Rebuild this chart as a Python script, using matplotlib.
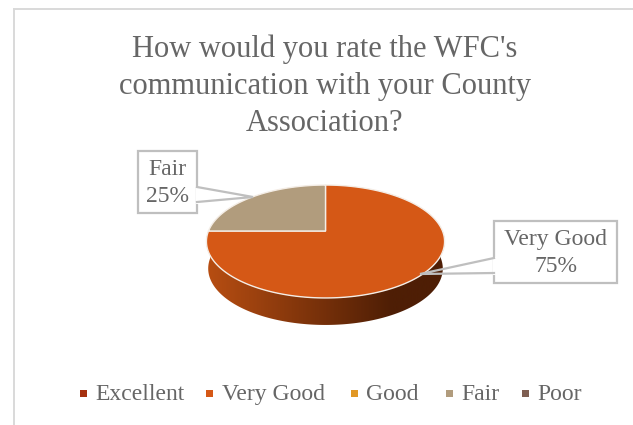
import matplotlib
matplotlib.use("Agg")
import matplotlib.pyplot as plt
import numpy as np
from matplotlib.patches import Polygon, Rectangle

title = "How would you rate the WFC's\ncommunication with your County\nAssociation?"
categories = ["Excellent", "Very Good", "Good", "Fair", "Poor"]
percents = [0, 75, 0, 25, 0]
colors = ["#A5300F", "#D55816", "#E19825", "#B19C7D", "#7F5F52"]

W, H = 633, 425
plt.rcParams["font.family"] = ["Liberation Serif", "DejaVu Serif"]
TEXT = "#666666"
LINE = "#BFBFBF"

fig = plt.figure(figsize=(W / 100, H / 100), dpi=100)
ax = fig.add_axes([0, 0, 1, 1])
ax.set_xlim(0, W)
ax.set_ylim(H, 0)
ax.axis("off")

# pie top face, tilted circle in perspective
CX, CY = 325.5, 231
BX, AY, K = 117, 54.5, 0.186
DEPTH = 27

def project(u, v):
    d = 1 + K * v
    return CX + BX * u / d, CY - AY * v / d

def wedge(a0, a1):
    t = np.radians(np.linspace(a0, a1, 200))
    x, y = project(np.cos(t), np.sin(t))
    return np.column_stack([np.r_[CX, x], np.r_[CY, y]])

# outer wall with a left to right shade
t = np.radians(np.linspace(180, 360, 200))
x, y = project(np.cos(t), np.sin(t))
wall = np.column_stack([np.r_[x, x[::-1] * 0.985 + CX * 0.015],
                        np.r_[y, y[::-1] + DEPTH]])
wall_patch = Polygon(wall, closed=True, fc="none", ec="none", zorder=2)
ax.add_patch(wall_patch)
ramp = np.linspace(0, 1, 256)
c0 = np.array([0xB8, 0x4E, 0x12]) / 255
c1 = np.array([0x4E, 0x1E, 0x05]) / 255
# darkest at about 80% of the way across, then flat
shade = np.clip(ramp / 0.78, 0, 1)[None, :, None]
grad = c0[None, None, :] * (1 - shade) + c1[None, None, :] * shade
im = ax.imshow(grad, extent=(x.min(), x.max(), H, 0), aspect="auto", zorder=2)
im.set_clip_path(wall_patch)
ax.set_xlim(0, W)
ax.set_ylim(H, 0)

# slices clockwise from twelve o'clock
start = 90
for name, pct, col in zip(categories, percents, colors):
    if pct == 0:
        continue
    end = start - pct * 3.6
    ax.add_patch(Polygon(wedge(start, end), closed=True, fc=col, ec="#F4EDE6",
                         lw=1.0, joinstyle="round", zorder=3))
    start = end

# callouts: box plus pointer
def callout(x0, y0, x1, y1, tip, base0, base1, lines):
    ax.add_patch(Rectangle((x0, y0), x1 - x0, y1 - y0, fc="white", ec=LINE, lw=1.6, zorder=5))
    ax.plot([base0[0], base1[0]], [base0[1], base1[1]], color="white", lw=2.2, zorder=6)
    ax.plot([base0[0], tip[0], base1[0]], [base0[1], tip[1], base1[1]],
            color=LINE, lw=1.6, zorder=6, solid_joinstyle="miter")
    ax.text((x0 + x1) / 2, (y0 + y1) / 2 + 1, lines, ha="center", va="center",
            fontsize=17, color=TEXT, linespacing=1.42, zorder=7)

callout(138, 151, 197, 213, (253, 197), (197, 187), (197, 202), "Fair\n25%")
callout(494, 221, 617, 283, (420, 274), (494, 258), (494, 273), "Very Good\n75%")

ax.text(325, 86, title, ha="center", va="center", fontsize=22, color=TEXT, linespacing=1.36)

# legend row
marker_x = [80, 206, 351, 446, 522]
label_x = [95.5, 222, 366, 461, 537]
for name, col, mx, tx in zip(categories, colors, marker_x, label_x):
    ax.add_patch(Rectangle((mx, 390), 7, 7, fc=col, ec="none", zorder=4))
    ax.text(tx, 400, name, ha="left", va="baseline", fontsize=17, color=TEXT)

# chart frame, only top and left visible
ax.plot([14, 14], [H, 8.5], color="#D9D9D9", lw=1.4)
ax.plot([14, W], [8.5, 8.5], color="#D9D9D9", lw=1.4)

fig.savefig("out.png", dpi=100)
